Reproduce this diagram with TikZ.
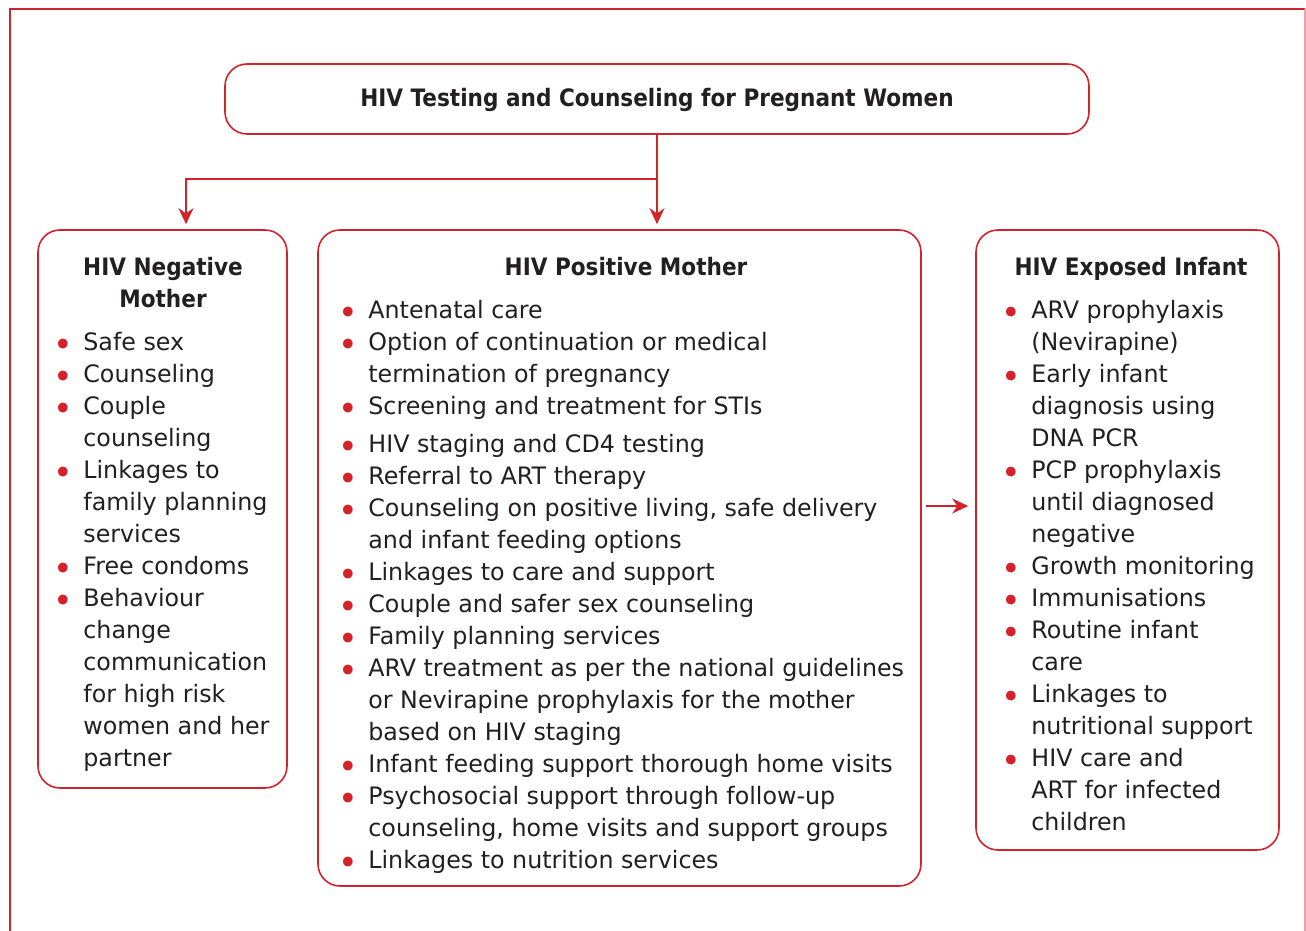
\documentclass[tikz,border=0pt]{standalone}
\usepackage{fontspec}
\setmainfont{DejaVu Sans}[FakeStretch=0.99]
\newfontfamily\headfont[FakeStretch=0.9]{DejaVu Sans Bold}
\usetikzlibrary{arrows.meta}

\definecolor{hivred}{RGB}{210,35,42}
\definecolor{hivpink}{RGB}{238,160,168}
\definecolor{inktext}{RGB}{35,31,32}
\newcommand{\bul}{\hspace*{-1pt}\textcolor{hivred}{\raisebox{-3.2pt}{\scalebox{1.4}{•}}}}

\tikzset{
  panel/.style={draw=hivred, line width=0.8pt, rounded corners=11pt, inner sep=0pt},
  link/.style={draw=hivred, line width=0.8pt, -{Stealth[length=8pt,width=7.5pt]}},
  head/.style={anchor=base, inner sep=0pt, text=inktext, font=\headfont\fontsize{12}{16}\selectfont},
  items/.style={anchor=base west, inner sep=0pt, text=inktext, font=\fontsize{12}{16}\selectfont},
}

\begin{document}
\begin{tikzpicture}[x=0.5pt,y=-0.5pt]
\useasboundingbox (0,0) rectangle (1306,931);
% outer frame
\draw[hivred, line width=0.8pt] (10,931) -- (10,9) -- (1305,9);
\draw[hivpink, line width=0.8pt] (1305,9) -- (1305,931);

% boxes
\node[panel, head, anchor=center, minimum width=432pt, minimum height=35pt,
  text height=11pt, text depth=3pt] (test) at (657,99)
  {HIV Testing and Counseling for Pregnant Women};
\node[panel, minimum width=124.5pt, minimum height=279pt] (neg) at (162.5,509) {};
\node[panel, minimum width=301.5pt, minimum height=328pt] (pos) at (619.5,558) {};
\node[panel, minimum width=151.5pt, minimum height=310pt] (inf) at (1127.5,540) {};

% titles
\node[head] (negtitle) at (163,275) {\begin{tabular}[t]{@{}c@{}}HIV Negative\\Mother\end{tabular}};
\node[head] (postitle) at (626,275) {HIV Positive Mother};
\node[head] (inftitle) at (1131,275) {HIV Exposed Infant};

% lists
\node[items] (neglist) at (55,350) {\begin{tabular}[t]{@{}p{14pt}@{}l@{}}
\bul & Safe sex\\
\bul & Counseling\\
\bul & Couple\\
     & counseling\\
\bul & Linkages to\\
     & family planning\\
     & services\\
\bul & Free condoms\\
\bul & Behaviour\\
     & change\\
     & communication\\
     & for high risk\\
     & women and her\\
     & partner
\end{tabular}};

\node[items] (poslist) at (340,318) {\begin{tabular}[t]{@{}p{14pt}@{}l@{}}
\bul & Antenatal care\\
\bul & Option of continuation or medical\\
     & termination of pregnancy\\
\bul & Screening and treatment for STIs\\[3pt]
\bul & HIV staging and CD4 testing\\
\bul & Referral to ART therapy\\
\bul & Counseling on positive living, safe delivery\\
     & and infant feeding options\\
\bul & Linkages to care and support\\
\bul & Couple and safer sex counseling\\
\bul & Family planning services\\
\bul & ARV treatment as per the national guidelines\\
     & or Nevirapine prophylaxis for the mother\\
     & based on HIV staging\\
\bul & Infant feeding support thorough home visits\\
\bul & Psychosocial support through follow-up\\
     & counseling, home visits and support groups\\
\bul & Linkages to nutrition services
\end{tabular}};

\node[items] (inflist) at (1003,318) {\begin{tabular}[t]{@{}p{14pt}@{}l@{}}
\bul & ARV prophylaxis\\
     & (Nevirapine)\\
\bul & Early infant\\
     & diagnosis using\\
     & DNA PCR\\
\bul & PCP prophylaxis\\
     & until diagnosed\\
     & negative\\
\bul & Growth monitoring\\
\bul & Immunisations\\
\bul & Routine infant\\
     & care\\
\bul & Linkages to\\
     & nutritional support\\
\bul & HIV care and\\
     & ART for infected\\
     & children
\end{tabular}};

% connectors
\coordinate (split) at (657,179);
\draw[link, shorten >=2.5pt] (test.south) -- (test.south |- pos.north);
\draw[link, shorten >=2.5pt] (split) -| ([xshift=11.75pt]neg.north);
\draw[link, shorten <=2pt, shorten >=3.5pt] ([yshift=26pt]pos.east) -- ([yshift=17pt]inf.west);
\end{tikzpicture}
\end{document}
